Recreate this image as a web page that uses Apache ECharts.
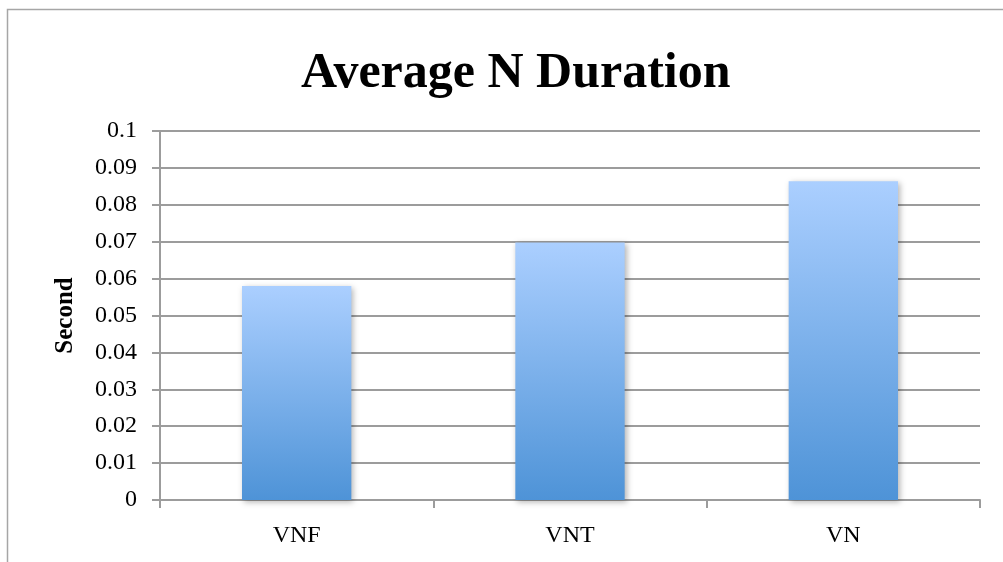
<!DOCTYPE html>
<html>
<head>
<meta charset="utf-8">
<script src="https://cdn.jsdelivr.net/npm/echarts@6/dist/echarts.min.js"></script>
<style>
  html, body { margin: 0; padding: 0; background: #fff; }
  #chart { width: 1003px; height: 562px; }
</style>
</head>
<body>
<div id="chart"></div>
<script>
// Average N duration per group, in seconds
const categories = ['VNF', 'VNT', 'VN'];
const durations = [0.058, 0.0698, 0.0864];
const yTicks = { min: 0, max: 0.1, interval: 0.01 };

const serif = '"Liberation Serif", "DejaVu Serif", serif';
const gridColor = '#9c9c9c';

const chart = echarts.init(document.getElementById('chart'), null, { renderer: 'canvas' });

chart.setOption({
  animation: false,
  backgroundColor: '#fff',
  title: {
    text: 'Average N Duration',
    left: 296,
    top: 44,
    textStyle: { fontFamily: serif, fontWeight: 'bold', fontSize: 50, color: '#000' }
  },
  graphic: [{
    type: 'rect',
    shape: { x: 7.5, y: 9.5, width: 1020, height: 600 },
    style: { fill: 'none', stroke: '#a6a6a6', lineWidth: 1.5 },
    silent: true,
    z: -1
  }],
  grid: { left: 160, right: 23, top: 131, bottom: 62 },
  xAxis: {
    type: 'category',
    data: categories,
    axisLine: { show: true, lineStyle: { color: gridColor, width: 2 } },
    axisTick: { show: true, length: 8, alignWithLabel: false, lineStyle: { color: gridColor, width: 2 } },
    axisLabel: { fontFamily: serif, fontSize: 24, color: '#000', margin: 24 },
    splitLine: { show: false }
  },
  yAxis: {
    type: 'value',
    min: yTicks.min,
    max: yTicks.max,
    interval: yTicks.interval,
    name: 'Second',
    nameLocation: 'middle',
    nameGap: 82,
    nameRotate: 90,
    nameTextStyle: { fontFamily: serif, fontWeight: 'bold', fontSize: 25, color: '#000' },
    axisLine: { show: true, lineStyle: { color: gridColor, width: 2 } },
    axisTick: { show: true, length: 8, lineStyle: { color: gridColor, width: 2 } },
    axisLabel: {
      fontFamily: serif, fontSize: 24, color: '#000', margin: 23,
      formatter: v => String(Number(v.toFixed(2)))
    },
    splitLine: { show: true, lineStyle: { color: gridColor, width: 2 } }
  },
  series: [{
    type: 'bar',
    data: durations,
    barCategoryGap: '60%',
    itemStyle: {
      color: new echarts.graphic.LinearGradient(0, 0, 0, 1, [
        { offset: 0, color: '#abcfff' },
        { offset: 1, color: '#4e93d7' }
      ]),
      shadowColor: 'rgba(0,0,0,0.3)',
      shadowBlur: 6,
      shadowOffsetX: 2,
      shadowOffsetY: 2
    }
  }]
});
</script>
</body>
</html>
